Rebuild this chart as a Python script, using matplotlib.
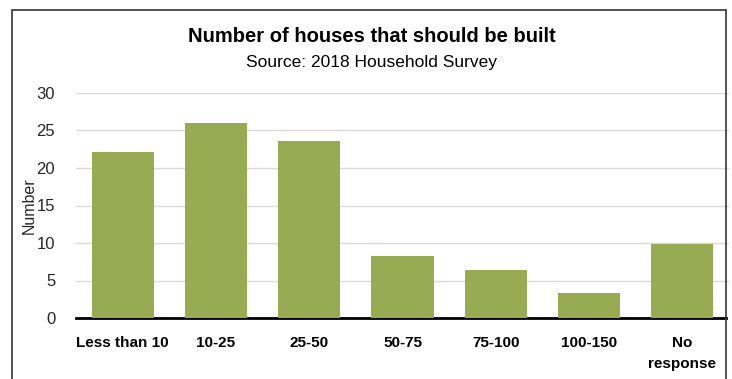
import matplotlib.pyplot as plt
from matplotlib.patches import Rectangle

categories = ['Less than 10', '10-25', '25-50', '50-75', '75-100', '100-150', 'No\nresponse']
values = [22.1, 26.0, 23.6, 8.3, 6.4, 3.4, 9.9]
yticks = [0, 5, 10, 15, 20, 25, 30]

W, H = 732, 379
fig = plt.figure(figsize=(W / 100, H / 100), dpi=100)

# outer chart border (bottom edge falls off the picture)
fig.patches.append(Rectangle((12 / W, -0.05), (726 - 12) / W, 1.05 - 10 / H,
                             transform=fig.transFigure, fill=False,
                             edgecolor='#333333', linewidth=1.2, zorder=10))

ax = fig.add_axes([76 / W, 1 - 318 / H, (729 - 76) / W, (318 - 93) / H])
ax.bar(range(len(categories)), values, width=0.665, color='#97AB52', zorder=3)
ax.set_xlim(-0.5, len(categories) - 0.5)
ax.set_ylim(0, 30)
ax.set_yticks(yticks)
ax.yaxis.grid(True, color='#d9d9d9', linewidth=1)
ax.set_axisbelow(True)
for s in ['top', 'right', 'left']:
  ax.spines[s].set_visible(False)
ax.spines['bottom'].set_color('black')
ax.spines['bottom'].set_linewidth(2)
ax.spines['bottom'].set_bounds(-0.5, 6.47)
ax.tick_params(axis='both', length=0)
ax.tick_params(axis='y', labelsize=12, labelcolor='#262626', pad=15)
ax.set_xticks(range(len(categories)))
ax.set_xticklabels(categories, fontsize=11, fontweight='bold', va='top',
                   linespacing=1.6, family='Liberation Sans')
ax.tick_params(axis='x', pad=13)
ax.set_ylabel('Number', fontsize=11.5, color='#262626', family='Liberation Sans')
ax.yaxis.set_label_coords(-0.06, 0.5)
for lab in ax.get_yticklabels():
  lab.set_family('Liberation Sans')

fig.text(372 / W, 1 - 37 / H, 'Number of houses that should be built', ha='center', va='center',
         fontsize=14.5, fontweight='bold', family='Liberation Sans')
fig.text(372 / W, 1 - 62 / H, 'Source: 2018 Household Survey', ha='center', va='center',
         fontsize=12.5, family='Liberation Sans')

fig.savefig('out.png', dpi=100)
